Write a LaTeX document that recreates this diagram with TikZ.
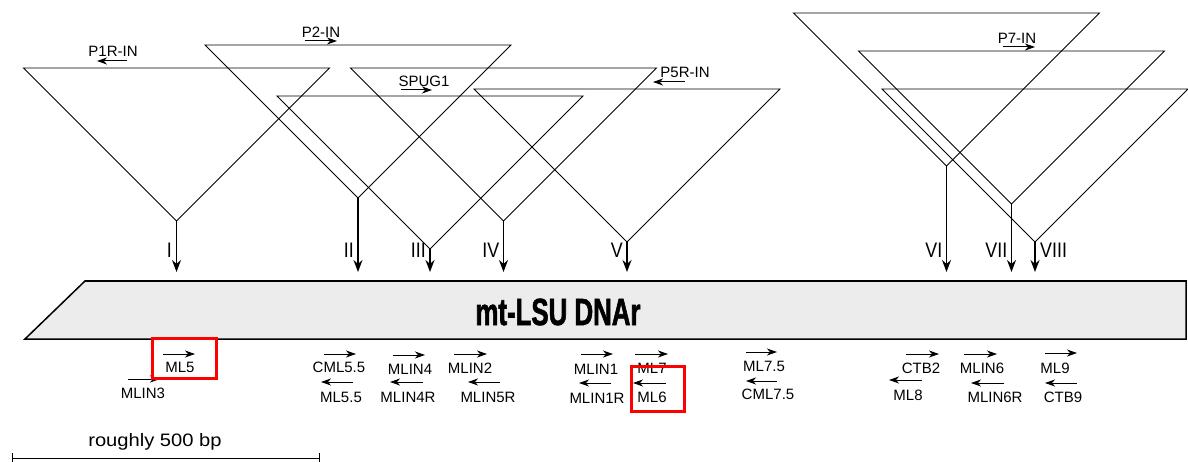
\documentclass[tikz,border=0pt]{standalone}
\usepackage{fontspec}
\setmainfont{Liberation Sans}
\newfontfamily\numfont[FakeStretch=0.85]{Liberation Sans}
\newfontfamily\bandfont[FakeStretch=0.68,FakeBold=1.5]{Liberation Sans}
\newfontfamily\barfont[FakeStretch=1.12]{Liberation Sans}
\usetikzlibrary{arrows.meta}

\begin{document}
\begin{tikzpicture}[x=1pt, y=-1pt,
    triangle/.style={line width=0.9pt},
    insarrow/.style={-{Stealth[length=12pt,width=9pt]}, line width=1.3pt},
    primer/.style={-{Stealth[length=10pt,width=7pt,inset=3pt]}, line width=1pt},
    plabel/.style={inner sep=0pt, font=\fontsize{15}{15}\selectfont},
    numlabel/.style={inner sep=0pt, font=\numfont\fontsize{21}{21}\selectfont},
    band/.style={fill=gray!15, draw=black, line width=1.5pt},
    hilite/.style={draw=red, line width=3pt}]
    \useasboundingbox (0,0) rectangle (1188,462);

    % the gene
    \draw[band] (85,281) -- (1186,281) -- (1186,339) -- (25,339) -- cycle;
    \node[inner sep=0pt, font=\bandfont\bfseries\fontsize{38}{38}\selectfont]
        (title) at (558,312) {mt-LSU DNAr};

    % introns
    \foreach \r/\x/\tp/\lx/\an in {I/176.5/68/172/east, II/358/45/354/east,
        III/430/96/426/east, IV/503.5/68/499.5/east, V/627/89/623/east,
        VI/946.5/13/942.5/east, VII/1011.5/51/1007.5/east, VIII/1035/89/1040/west} {
    \draw[triangle] (\x-153,\tp) -- (\x+153,\tp) -- (\x,\tp+153) -- cycle;
    \coordinate (apex\r) at (\x,\tp+153);
    \coordinate (hit\r) at (\x,272);
    \draw[insarrow] (apex\r) -- (hit\r);
    \node[numlabel, anchor=\an] (num\r) at (\lx,250) {\r};
}

    % primers
    \foreach \nm/\txt/\lx/\ly/\ax/\bx/\ay in {
        p1r/P1R-IN/113/51/127/97/61, p2/P2-IN/321/32/305/337/41,
        spug/SPUG1/424/81/401/432/90, p5r/P5R-IN/685/72/685/653/82,
        p7/P7-IN/1017/38/1003/1035/47,
        ml5/ML5/180/367/163/195/354, mlin3/MLIN3/143/393/128/160/379,
        cml55/CML5.5/339/367/324/356/354, ml55/ML5.5/341/397/353/321/382,
        mlin4/MLIN4/410/369/393/425/355, mlin4r/MLIN4R/408/397/423/390/382,
        mlin2/MLIN2/470/368/454/487/354, mlin5r/MLIN5R/488/397/500/468/382,
        mlin1/MLIN1/596/369/581/613/354, ml7/ML7/652/368/635/668/354,
        mlin1r/MLIN1R/597/398/611/579/383, ml6/ML6/652/397/666/633/383,
        ml75/ML7.5/764/366/746/777/352, cml75/CML7.5/768/394/777/746/381,
        ctb2/CTB2/921/368/906/939/354, ml8/ML8/908/395/922/889/380,
        mlin6/MLIN6/982/368/964/997/354, mlin6r/MLIN6R/995/397/1004/971/383,
        ml9/ML9/1055/368/1045/1077/353, ctb9/CTB9/1063/397/1077/1045/383} {
    \node[plabel] (\nm) at (\lx,\ly) {\txt};
    \coordinate (\nm-a) at (\ax,\ay);
    \coordinate (\nm-b) at (\bx,\ay);
    \draw[primer] (\nm-a) -- (\nm-b);
}

    \draw[hilite] (152,338) rectangle (216,378);
    \draw[hilite] (631,366) rectangle (684,411);

    % scale
    \coordinate (barl) at (12,458);
    \coordinate (barr) at (320,458);
    \draw[{Bar[width=10pt]}-{Bar[width=10pt]}, line width=1pt] (barl) -- (barr);
    \node[inner sep=0pt, font=\barfont\fontsize{18}{18}\selectfont]
        (scalelab) at (155,442) {roughly 500 bp};
\end{tikzpicture}
\end{document}
